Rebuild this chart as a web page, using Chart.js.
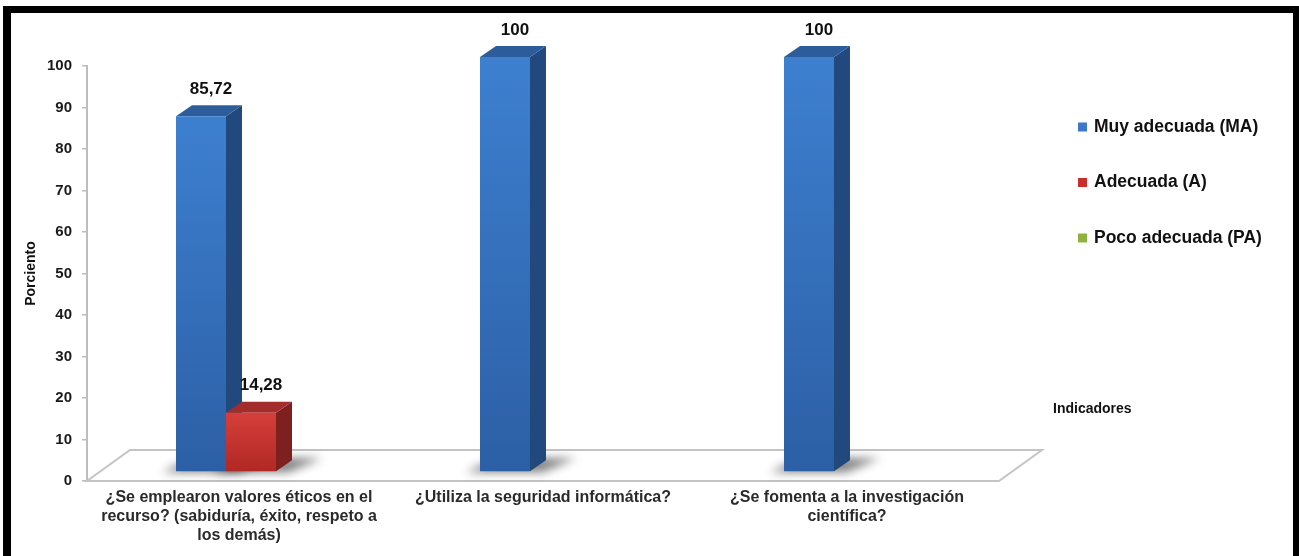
<!DOCTYPE html>
<html>
<head>
<meta charset="utf-8">
<script src="https://cdn.jsdelivr.net/npm/chart.js@4.4.0/dist/chart.umd.min.js"></script>
<style>
  body { margin: 0; background: #fff; overflow: hidden; }
  #wrap { position: relative; width: 1299px; height: 556px; }
  #frame { position: absolute; left: 3px; top: 6px; width: 1282px; height: 600px; border: solid #000; border-width: 7px 6px 0 8px; pointer-events: none; }
</style>
</head>
<body>
<div id="wrap">
  <canvas id="grafico" width="1299" height="556"></canvas>
  <div id="frame"></div>
</div>
<script>
// categorias del eje x (cada elemento es una linea de la etiqueta)
var indicadores = [
    ['¿Se emplearon valores éticos en el', 'recurso? (sabiduría, éxito, respeto a', 'los demás)'],
    ['¿Utiliza la seguridad informática?'],
    ['¿Se fomenta a la investigación', 'científica?']
];
var series = ['Muy adecuada (MA)', 'Adecuada (A)', 'Poco adecuada (PA)'];

// porcientos por serie
var muyAdecuada = [85.72, 100, 100];
var adecuada = [14.28, 0, 0];
var pocoAdecuada = [0, 0, 0];

// eje y
var yMin = 0, yMax = 100, yPaso = 10;

// colores de cada serie (frente arriba/abajo, lado, tapa, leyenda)
var colores = [
    {frente: ['#3d80d0', '#2c5fa5'], lado: '#22497d', tapa: '#2d5c9a', leyenda: '#3a78c8'},
    {frente: ['#d63f3a', '#b02825'], lado: '#7d201f', tapa: '#a22d2a', leyenda: '#c9302c'},
    {frente: ['#9cc24d', '#7da232'], lado: '#5a7a24', tapa: '#7fa236', leyenda: '#8db33e'}
];

var fuente = "'Liberation Sans', Arial, sans-serif";
Chart.defaults.font.family = fuente;

// desplazamientos para el efecto 3d
var DX = 12, DY = -9;        // cara frontal respecto al plano del eje
var PX = 16, PY = -11;       // profundidad de cada barra
var PISO_X = 43, PISO_Y = -31;

function recorrerBarras(chart, fn) {
    chart.data.datasets.forEach(function(ds, d) {
        var meta = chart.getDatasetMeta(d);
        meta.data.forEach(function(bar, i) {
            if (!ds.data[i]) return;   // los ceros no se dibujan
            var l = bar.x - bar.width / 2 + DX;
            var r = bar.x + bar.width / 2 + DX;
            fn(ds.data[i], colores[d], l, r, bar.y + DY, bar.base + DY);
        });
    });
}

var barras3d = {
    id: 'barras3d',
    beforeDatasetsDraw: function(chart) {
        var ctx = chart.ctx, a = chart.chartArea;
        var y0 = chart.scales.y.getPixelForValue(0);
        ctx.save();
        // piso
        ctx.beginPath();
        ctx.moveTo(a.left, y0);
        ctx.lineTo(a.right, y0);
        ctx.lineTo(a.right + PISO_X, y0 + PISO_Y);
        ctx.lineTo(a.left + PISO_X, y0 + PISO_Y);
        ctx.closePath();
        ctx.fillStyle = '#fff';
        ctx.fill();
        ctx.strokeStyle = '#c4c4c4';
        ctx.lineWidth = 2;
        ctx.stroke();
        // sombras sobre el piso
        ctx.filter = 'blur(5px)';
        ctx.fillStyle = 'rgba(0,0,0,0.5)';
        recorrerBarras(chart, function(v, c, l, r, t, b) {
            ctx.beginPath();
            ctx.moveTo(l - 14, b + 1);
            ctx.lineTo(r + 12, b + 1);
            ctx.lineTo(r + PX + 30, b + PY - 2);
            ctx.lineTo(l + PX, b + PY - 2);
            ctx.closePath();
            ctx.fill();
        });
        ctx.restore();
    },
    afterDatasetsDraw: function(chart) {
        var ctx = chart.ctx;
        ctx.save();
        recorrerBarras(chart, function(v, c, l, r, t, b) {
            // lado
            ctx.fillStyle = c.lado;
            ctx.beginPath();
            ctx.moveTo(r, b);
            ctx.lineTo(r + PX, b + PY);
            ctx.lineTo(r + PX, t + PY);
            ctx.lineTo(r, t);
            ctx.closePath();
            ctx.fill();
            // tapa
            ctx.fillStyle = c.tapa;
            ctx.beginPath();
            ctx.moveTo(l, t);
            ctx.lineTo(l + PX, t + PY);
            ctx.lineTo(r + PX, t + PY);
            ctx.lineTo(r, t);
            ctx.closePath();
            ctx.fill();
            // frente
            var g = ctx.createLinearGradient(0, t, 0, b);
            g.addColorStop(0, c.frente[0]);
            g.addColorStop(1, c.frente[1]);
            ctx.fillStyle = g;
            ctx.fillRect(l, t, r - l, b - t);
            // etiqueta de valor
            ctx.fillStyle = '#111';
            ctx.font = 'bold 17px ' + fuente;
            ctx.textAlign = 'center';
            ctx.textBaseline = 'middle';
            ctx.fillText(String(v).replace('.', ','), (l + r) / 2 + 10, t - 27);
        });
        ctx.restore();
    },
    afterDraw: function(chart) {
        var ctx = chart.ctx;
        ctx.save();
        ctx.textAlign = 'left';
        ctx.textBaseline = 'middle';
        // leyenda
        ctx.font = 'bold 17.5px ' + fuente;
        series.forEach(function(nombre, i) {
            var y = 127 + i * 55.5;
            ctx.fillStyle = colores[i].leyenda;
            ctx.fillRect(1078, y - 4.5, 9, 9);
            ctx.fillStyle = '#111';
            ctx.fillText(nombre, 1094, y);
        });
        // titulo del eje x
        ctx.font = 'bold 14px ' + fuente;
        ctx.fillText('Indicadores', 1053, 409);
        ctx.restore();
    }
};

var grafico = new Chart(document.getElementById('grafico').getContext('2d'), {
    type: 'bar',
    data: {
        labels: indicadores,
        datasets: [
            {label: series[0], data: muyAdecuada, backgroundColor: 'rgba(0,0,0,0)'},
            {label: series[1], data: adecuada, backgroundColor: 'rgba(0,0,0,0)'},
            {label: series[2], data: pocoAdecuada, backgroundColor: 'rgba(0,0,0,0)'}
        ]
    },
    options: {
        responsive: false,
        animation: false,
        layout: {padding: {top: 66, left: 12, right: 300, bottom: 0}},
        datasets: {bar: {categoryPercentage: 0.4934, barPercentage: 1}},
        plugins: {legend: {display: false}, tooltip: {enabled: false}},
        scales: {
            x: {
                grid: {display: false, drawTicks: false},
                border: {display: false},
                ticks: {
                    padding: 6.5, color: '#2a2a2a', maxRotation: 0, autoSkip: false,
                    font: {size: 16, weight: 'bold', lineHeight: 1.2}
                },
                afterFit: function(s) { s.height = 75; }
            },
            y: {
                min: yMin, max: yMax,
                ticks: {stepSize: yPaso, padding: 10, color: '#1a1a1a', font: {size: 15, weight: 'bold'}},
                grid: {drawOnChartArea: false, tickLength: 5, color: '#bdbdbd', lineWidth: 1.5},
                border: {color: '#bdbdbd', width: 2},
                title: {
                    display: true, text: 'Porciento', color: '#111',
                    font: {size: 14, weight: 'bold'}, padding: {top: 11, bottom: 0}
                },
                afterFit: function(s) { s.width = 75; }
            }
        }
    },
    plugins: [barras3d]
});
</script>
</body>
</html>
